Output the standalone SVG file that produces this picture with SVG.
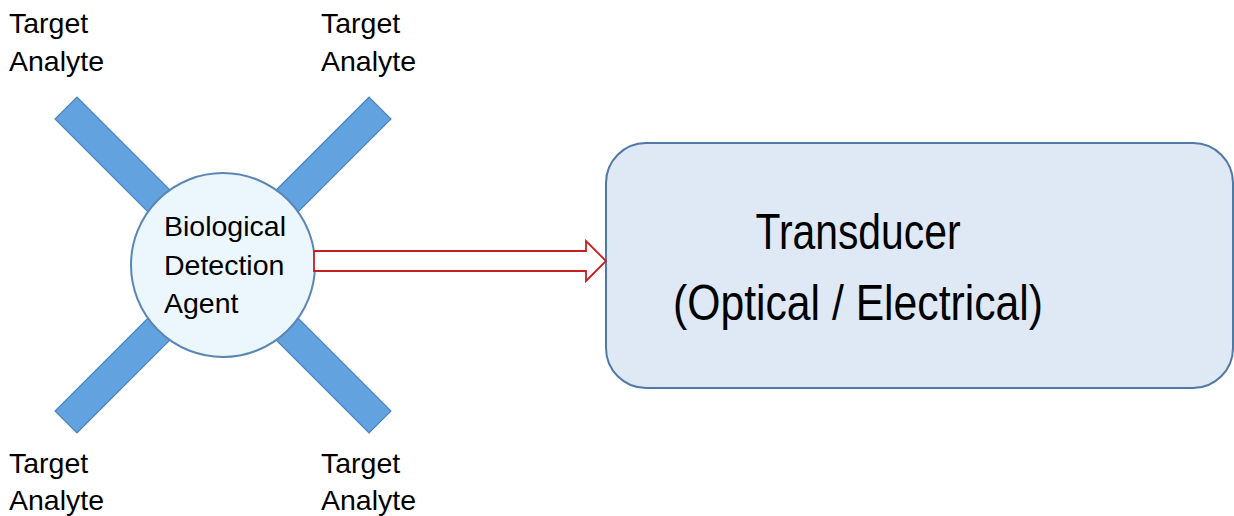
<svg xmlns="http://www.w3.org/2000/svg" width="1234" height="516" viewBox="0 0 1234 516">
  <style>
    .label { font-family: "Liberation Sans", Arial, sans-serif; font-size: 28.5px; fill: #000; }
    .big { font-family: "Liberation Sans", Arial, sans-serif; font-size: 50px; fill: #000; text-anchor: middle; }
    .arm { fill: #62A3DF; stroke: #4A84BD; stroke-width: 1.2; }
  </style>
  <rect width="1234" height="516" fill="#fff"/>

  <!-- receptor arms crossing behind the detection agent -->
  <g id="arms">
    <rect class="arm" x="1" y="249.5" width="444" height="31" transform="rotate(45 223 265)"/>
    <rect class="arm" x="1" y="249.5" width="444" height="31" transform="rotate(-45 223 265)"/>
  </g>

  <g id="agent">
    <circle cx="223" cy="265" r="92" fill="#EBF6FD" stroke="#5A86B4" stroke-width="2"/>
    <text class="label" x="164" y="236">Biological</text>
    <text class="label" x="164" y="275">Detection</text>
    <text class="label" x="164" y="313">Agent</text>
  </g>

  <g id="analyte-tl">
    <text class="label" x="9" y="33">Target</text>
    <text class="label" x="9" y="71">Analyte</text>
  </g>
  <g id="analyte-tr">
    <text class="label" x="321" y="33">Target</text>
    <text class="label" x="321" y="71">Analyte</text>
  </g>
  <g id="analyte-bl">
    <text class="label" x="9" y="473">Target</text>
    <text class="label" x="9" y="510">Analyte</text>
  </g>
  <g id="analyte-br">
    <text class="label" x="321" y="473">Target</text>
    <text class="label" x="321" y="510">Analyte</text>
  </g>

  <g id="transducer">
    <rect x="606" y="143" width="627" height="245" rx="40" ry="40" fill="#DEE9F5" stroke="#5079A6" stroke-width="2"/>
    <text class="big" x="858" y="249" textLength="205" lengthAdjust="spacingAndGlyphs">Transducer</text>
    <text class="big" x="858" y="320" textLength="370" lengthAdjust="spacingAndGlyphs">(Optical / Electrical)</text>
  </g>

  <g id="connectors">
    <path d="M314 251 H586 V241 L606 261 L586 281 V271 H314 Z" fill="#fff" stroke="#C81E1E" stroke-width="1.8" stroke-linejoin="miter"/>
  </g>
</svg>
